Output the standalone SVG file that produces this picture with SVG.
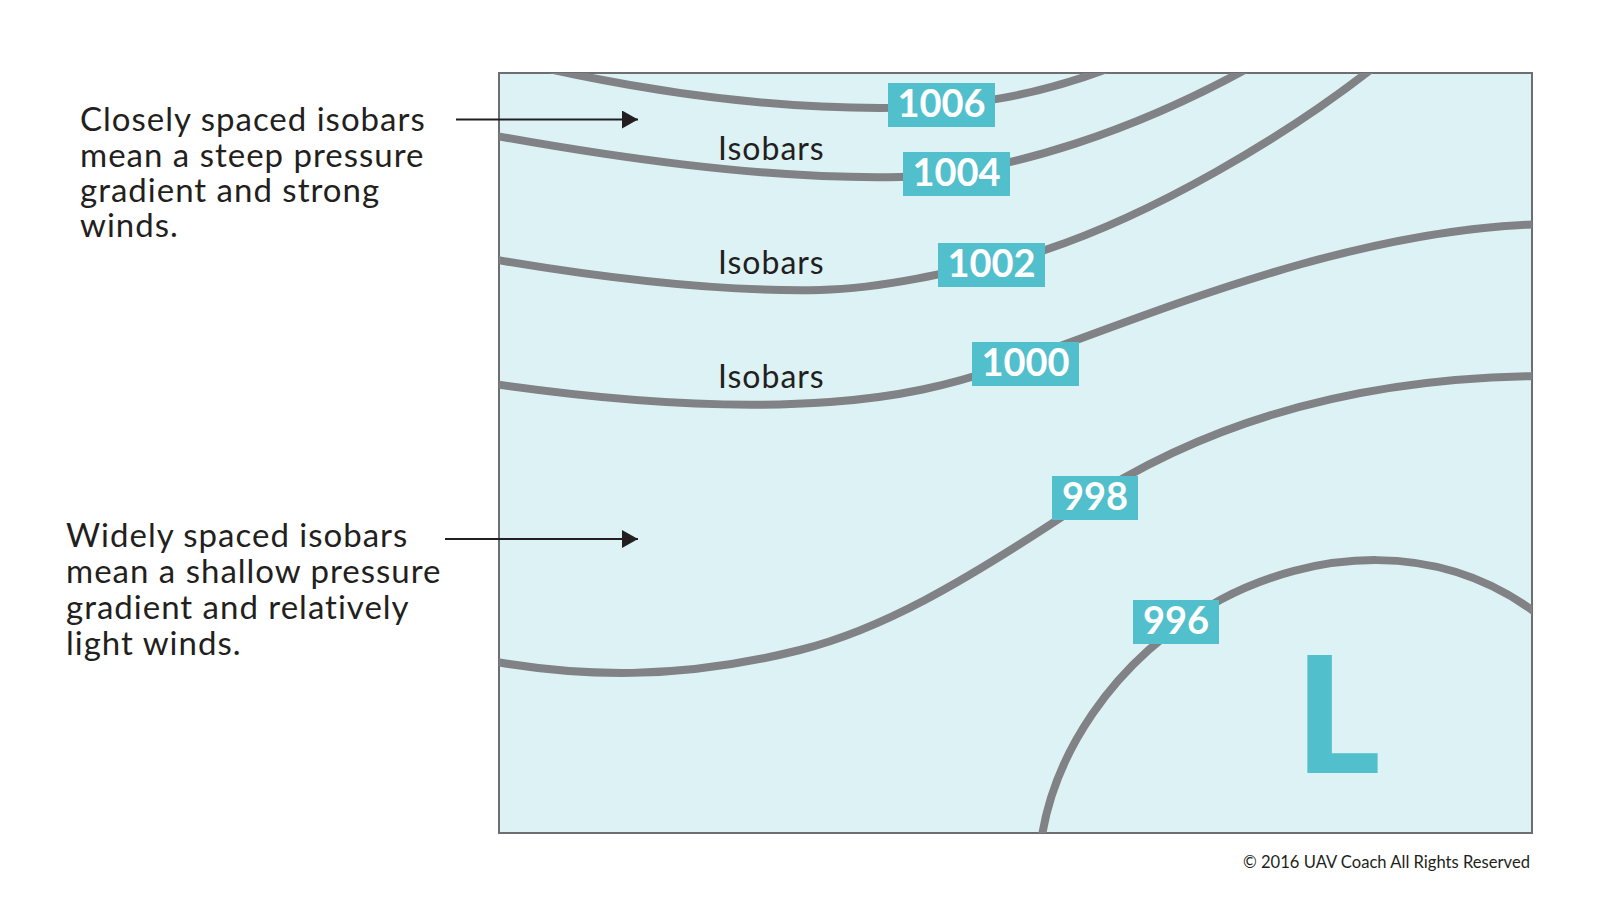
<svg xmlns="http://www.w3.org/2000/svg" width="1600" height="900" viewBox="0 0 1600 900">
  <defs>
    <style>
      .iso { fill: none; stroke: #808285; stroke-width: 8; }
      .tag { fill: #52bfcc; }
      .num { font-family: Lato, "Liberation Sans", sans-serif; font-weight: 700; font-size: 38px; fill: #ffffff; text-anchor: middle; }
      .lbl { font-family: Lato, "Liberation Sans", sans-serif; font-size: 32px; letter-spacing: 1px; fill: #231f20; }
      .para { font-family: Lato, "Liberation Sans", sans-serif; font-size: 33px; letter-spacing: 1px; fill: #231f20; }
      .arrow { stroke: #231f20; stroke-width: 2; fill: none; }
    </style>
    <clipPath id="mapclip">
      <rect x="499" y="73" width="1033" height="760"/>
    </clipPath>
    <marker id="ah" markerUnits="userSpaceOnUse" markerWidth="18" markerHeight="18" refX="16" refY="9" orient="auto">
      <path d="M0,0 L16,9 L0,18 Z" fill="#231f20"/>
    </marker>
  </defs>

  <rect width="1600" height="900" fill="#ffffff"/>

  <g id="map">
    <rect x="499" y="73" width="1033" height="760" fill="#dcf2f5" stroke="#6d6e71" stroke-width="2"/>
  </g>

  <g id="isobars" clip-path="url(#mapclip)">
    <path class="iso" d="M535,66 C650,92 770,108 880,108 C970,108 1040,95 1115,66"/>
    <path class="iso" d="M480,133 C600,155 760,180 900,177 C1010,174 1140,128 1252,66"/>
    <path class="iso" d="M480,257 C600,278 720,292 820,290 C890,288 960,270 1045,250 C1150,215 1283,140 1383,60"/>
    <path class="iso" d="M480,382 C600,400 720,410 830,402 C900,397 950,385 1000,368 C1150,315 1350,228 1545,224"/>
    <path class="iso" d="M480,659 C580,678 680,680 800,650 C880,630 960,585 1080,505 C1200,425 1350,377 1545,376"/>
    <path class="iso" d="M1040,850 C1050,760 1110,660 1220,600 C1310,552 1440,535 1545,620"/>
  </g>

  <g id="iso-labels">
    <text class="lbl" x="718" y="160">Isobars</text>
    <text class="lbl" x="718" y="274">Isobars</text>
    <text class="lbl" x="718" y="388">Isobars</text>
  </g>

  <g id="tag-1006">
    <rect class="tag" x="888" y="83" width="107" height="44"/>
    <text class="num" x="941.5" y="117">1006</text>
  </g>
  <g id="tag-1004">
    <rect class="tag" x="903" y="152" width="107" height="44"/>
    <text class="num" x="956.5" y="186">1004</text>
  </g>
  <g id="tag-1002">
    <rect class="tag" x="938" y="243" width="107" height="44"/>
    <text class="num" x="991.5" y="277">1002</text>
  </g>
  <g id="tag-1000">
    <rect class="tag" x="972" y="342" width="107" height="44"/>
    <text class="num" x="1025.5" y="376">1000</text>
  </g>
  <g id="tag-998">
    <rect class="tag" x="1052" y="476" width="86" height="44"/>
    <text class="num" x="1095" y="510">998</text>
  </g>
  <g id="tag-996">
    <rect class="tag" x="1133" y="600" width="86" height="44"/>
    <text class="num" x="1176" y="634">996</text>
  </g>

  <g id="low">
    <text x="1295" y="773" font-family="Lato, 'Liberation Sans', sans-serif" font-weight="900" font-size="163" fill="#52bfcc">L</text>
  </g>

  <g id="note-close">
    <text class="para" x="80" y="131">Closely spaced isobars</text>
    <text class="para" x="80" y="166.5">mean a steep pressure</text>
    <text class="para" x="80" y="202">gradient and strong</text>
    <text class="para" x="80" y="237">winds.</text>
  </g>
  <g id="note-wide">
    <text class="para" x="66" y="547">Widely spaced isobars</text>
    <text class="para" x="66" y="583">mean a shallow pressure</text>
    <text class="para" x="66" y="619">gradient and relatively</text>
    <text class="para" x="66" y="655">light winds.</text>
  </g>

  <g id="connectors">
    <line class="arrow" x1="456" y1="119.5" x2="638" y2="119.5" marker-end="url(#ah)"/>
    <line class="arrow" x1="445" y1="539" x2="638" y2="539" marker-end="url(#ah)"/>
  </g>

  <g id="copyright">
    <text x="1530" y="868" font-family="Lato, 'Liberation Sans', sans-serif" font-size="16.6" fill="#231f20" text-anchor="end">© 2016 UAV Coach All Rights Reserved</text>
  </g>
</svg>
